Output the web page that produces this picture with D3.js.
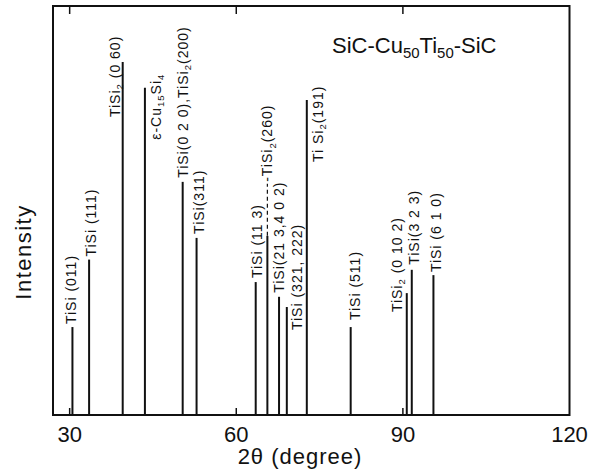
<!DOCTYPE html>
<html>
<head>
<meta charset="utf-8">
<script src="https://cdn.jsdelivr.net/npm/d3@7"></script>
<style>
  body { margin: 0; background: #fff; }
  text { font-family: "Liberation Sans", Arial, sans-serif; fill: #111; }
</style>
</head>
<body>
<svg id="chart" width="592" height="470"></svg>
<script>
// peak positions (2theta, deg) and relative intensity
var twoTheta = [30.5, 33.5, 39.55, 43.55, 50.35, 52.85, 63.5, 65.6, 67.7, 69.1, 72.7, 80.6, 90.7, 91.6, 95.5];
var intensity = [21.5, 38, 86.3, 80, 57, 43.3, 32.5, 43.8, 28.9, 26.4, 77, 21.5, 29.8, 35.5, 34.2];
// "_" marks a subscript run
var peakLabels = [
  "TiSi (011)",
  "TiSi (111)",
  "TiSi_2 (0 60)",
  "ε-Cu_15Si_4",
  "TiSi(0 2 0),TiSi_2(200)",
  "TiSi(311)",
  "TiSi (11 3)",
  "-TiSi_2(260)",
  "TiSi(21 3,4 0 2)",
  "TiSi (321, 222)",
  "Ti Si_2(191)",
  "TiSi (511)",
  "TiSi_2 (0 10 2)",
  "TiSi(3 2 3)",
  "TiSi (6 1 0)"
];
var xTicks = [30, 60, 90, 120];

// label layout: [dx from line centre, dy of text start from peak top]
var labelOffset = [[-1,-3],[1.5,-3],[-8,55],[11,52],[0,-4],[2,-4],[1,-4],[0,-54],[0,-4],[10,23],[11,62],[4,-7],[-10,19],[2,-5],[3,-3]];

var svg = d3.select("#chart");
var x = d3.scaleLinear().domain([27, 120]).range([53, 569.5]);
var y = d3.scaleLinear().domain([0, 100]).range([415, 6]);

// frame
svg.append("rect")
  .attr("x", x(27)).attr("y", y(100))
  .attr("width", x(120) - x(27)).attr("height", y(0) - y(100))
  .attr("fill", "none").attr("stroke", "#111").attr("stroke-width", 2);

// inward ticks top and bottom
var inner = xTicks.filter(function(d){ return d < 120; });
svg.selectAll(".tb").data(inner).enter().append("line")
  .attr("x1", function(d){ return x(d); }).attr("x2", function(d){ return x(d); })
  .attr("y1", y(0)).attr("y2", y(0) - 7)
  .attr("stroke", "#111").attr("stroke-width", 1.5);
svg.selectAll(".tt").data(inner).enter().append("line")
  .attr("x1", function(d){ return x(d); }).attr("x2", function(d){ return x(d); })
  .attr("y1", y(100)).attr("y2", y(100) + 8)
  .attr("stroke", "#111").attr("stroke-width", 1.5);

svg.selectAll(".tl").data(xTicks).enter().append("text")
  .attr("x", function(d){ return x(d); })
  .attr("y", 442)
  .attr("text-anchor", "middle")
  .style("font-size", "22px")
  .text(function(d){ return d; });

// peaks
svg.selectAll(".peak").data(twoTheta).enter().append("line")
  .attr("x1", function(d){ return x(d); }).attr("x2", function(d){ return x(d); })
  .attr("y1", y(0))
  .attr("y2", function(d, i){ return y(intensity[i]); })
  .attr("stroke", "#111").attr("stroke-width", 2);

// dashed leader for the (260) label
var li = 7;
svg.append("line")
  .attr("x1", x(twoTheta[li])).attr("x2", x(twoTheta[li]))
  .attr("y1", y(intensity[li])).attr("y2", y(intensity[li]) + labelOffset[li][1] + 2)
  .attr("stroke", "#111").attr("stroke-width", 1.2)
  .attr("stroke-dasharray", "4,3");

function addRich(t, s, size) {
  var parts = s.split(/(_\d+)/);
  var shift = size * 0.22;
  var pending = 0;
  parts.forEach(function(p){
    if (!p) return;
    if (p[0] == "_") {
      t.append("tspan").attr("dy", shift + pending).style("font-size", (size * 0.68) + "px").text(p.slice(1));
      pending = -shift;
    } else {
      t.append("tspan").attr("dy", pending).text(p);
      pending = 0;
    }
  });
}

var fs = 14;
peakLabels.forEach(function(s, i){
  var px = x(twoTheta[i]) + labelOffset[i][0] + fs * 0.36;
  var py = y(intensity[i]) + labelOffset[i][1];
  var t = svg.append("text")
    .attr("transform", "translate(" + px + "," + py + ") rotate(-90)")
    .style("font-size", fs + "px")
    .style("letter-spacing", "1px");
  addRich(t, s, fs);
});

// title inside plot
var title = svg.append("text").attr("x", 332).attr("y", 53).style("font-size", "22px");
addRich(title, "SiC-Cu_50Ti_50-SiC", 22);

// axis titles
svg.append("text")
  .attr("transform", "translate(31,252) rotate(-90)")
  .attr("text-anchor", "middle")
  .style("font-size", "22px").style("letter-spacing", "1.5px")
  .text("Intensity");
svg.append("text")
  .attr("x", 300).attr("y", 464)
  .attr("text-anchor", "middle")
  .style("font-size", "22px").style("letter-spacing", "1px")
  .text("2θ (degree)");
</script>
</body>
</html>
